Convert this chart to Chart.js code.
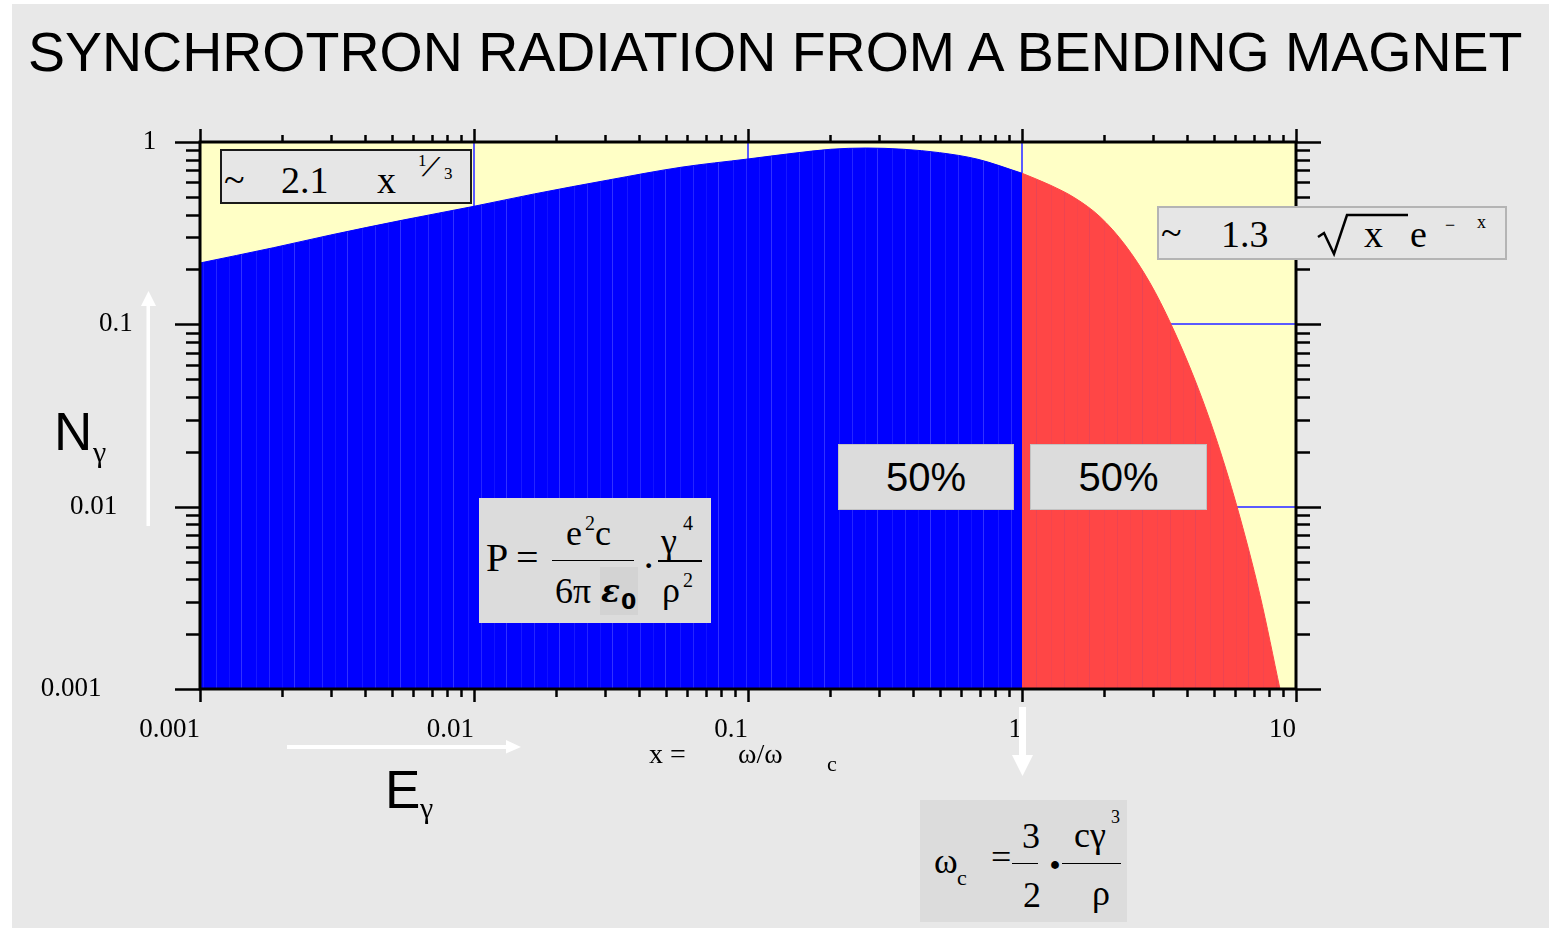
<!DOCTYPE html>
<html>
<head>
<meta charset="utf-8">
<script src="https://cdn.jsdelivr.net/npm/chart.js@4.4.1/dist/chart.umd.min.js"></script>
<style>
  html, body { margin: 0; padding: 0; background: #fff; }
  #page { position: absolute; left: 12px; top: 4px; width: 1537px; height: 924px; background: #e8e8e8; }
  #chart { position: absolute; left: 0; top: 0; }
  .t { position: absolute; line-height: 1; white-space: nowrap; font-family: "Liberation Serif", serif; color: #000; }
  .s { font-family: "Liberation Sans", Arial, sans-serif; }
  .box { position: absolute; box-sizing: border-box; }
  .bar { position: absolute; height: 1.5px; background: #000; }
  .pct { position: absolute; box-sizing: border-box; background: #dcdcdc; border: 1px solid #c2c2c2;
         font: 40px "Liberation Sans", Arial, sans-serif; text-align: center; line-height: 64px; }
</style>
</head>
<body>
<div id="page"></div>
<canvas id="chart" width="1549" height="928"></canvas>

<!-- title and axis names -->
<div class="t s" style="left:28px; top:25px; font-size:55.5px;">SYNCHROTRON RADIATION FROM A BENDING MAGNET</div>
<div class="t s" style="left:54px; top:405px; font-size:53px;">N</div>
<div class="t" style="left:93px; top:437px; font-size:30px;">γ</div>
<div class="t s" style="left:385px; top:763px; font-size:53px;">E</div>
<div class="t" style="left:420px; top:793px; font-size:30px;">γ</div>
<div class="t" style="left:649px; top:740px; font-size:28px;">x =</div>
<div class="t" style="left:738px; top:740px; font-size:28px;">ω/ω</div>
<div class="t" style="left:827px; top:753px; font-size:22px;">c</div>

<!-- low energy asymptote -->
<div class="box" style="left:220px; top:149px; width:252px; height:55px; background:#e6e6e6; border:2px solid #1a1a1a;"></div>
<div class="t" style="left:224px; top:160px; font-size:38px;">~</div>
<div class="t" style="left:281px; top:161px; font-size:38px;">2.1</div>
<div class="t" style="left:377px; top:161px; font-size:38px;">x</div>
<div class="t" style="left:418px; top:152px; font-size:17px;">1</div>
<div class="t" style="left:427px; top:152px; font-size:29px; transform:skewX(-28deg); font-weight:bold;">/</div>
<div class="t" style="left:444px; top:165px; font-size:17px;">3</div>

<!-- high energy asymptote -->
<div class="box" style="left:1157px; top:206px; width:350px; height:54px; background:#e6e6e6; border:2px solid #b4b4b4;"></div>
<div class="t" style="left:1161px; top:213px; font-size:38px;">~</div>
<div class="t" style="left:1221px; top:215px; font-size:38px;">1.3</div>
<svg style="position:absolute; left:1310px; top:205px;" width="110" height="60">
  <polyline points="8,32 14,28 24,49 37,10 98,10" fill="none" stroke="#000" stroke-width="2.5"/>
</svg>
<div class="t" style="left:1364px; top:215px; font-size:38px;">x</div>
<div class="t" style="left:1410px; top:215px; font-size:38px;">e</div>
<div class="t" style="left:1445px; top:216px; font-size:18px;">−</div>
<div class="t" style="left:1477px; top:213px; font-size:18px;">x</div>

<!-- half of the power on each side of the critical frequency -->
<div class="pct" style="left:838px; top:444px; width:176px; height:66px;">50%</div>
<div class="pct" style="left:1030px; top:444px; width:177px; height:66px;">50%</div>

<!-- radiated power -->
<div class="box" style="left:479px; top:498px; width:232px; height:125px; background:#dcdcdc;"></div>
<div class="box" style="left:600px; top:567px; width:38px; height:48px; background:#d3d3d3;"></div>
<div class="t" style="left:486px; top:538px; font-size:40px;">P</div>
<div class="t" style="left:516px; top:538px; font-size:40px;">=</div>
<div class="bar" style="left:552px; top:559.5px; width:82px;"></div>
<div class="t" style="left:566px; top:515px; font-size:36px;">e</div>
<div class="t" style="left:585px; top:513px; font-size:20px;">2</div>
<div class="t" style="left:595px; top:515px; font-size:36px;">c</div>
<div class="t" style="left:555px; top:573px; font-size:36px;">6π</div>
<div class="t" style="left:601px; top:576px; font-size:31px; font-family:'DejaVu Serif'; font-weight:bold; font-style:italic;">ε</div>
<div class="t" style="left:621px; top:591px; font-size:22px; font-family:'DejaVu Sans'; font-weight:bold;">0</div>
<div class="t" style="left:642px; top:546px; font-size:40px;">·</div>
<div class="t" style="left:661px; top:523px; font-size:36px;">γ</div>
<div class="t" style="left:683px; top:513px; font-size:20px;">4</div>
<div class="bar" style="left:658px; top:560px; width:44px;"></div>
<div class="t" style="left:662px; top:572px; font-size:36px;">ρ</div>
<div class="t" style="left:683px; top:570px; font-size:20px;">2</div>

<!-- critical frequency -->
<div class="box" style="left:920px; top:800px; width:207px; height:122px; background:#dcdcdc;"></div>
<div class="t" style="left:934px; top:843px; font-size:36px;">ω</div>
<div class="t" style="left:957px; top:867px; font-size:22px;">c</div>
<div class="t" style="left:991px; top:839px; font-size:36px;">=</div>
<div class="bar" style="left:1012px; top:862.5px; width:26px;"></div>
<div class="t" style="left:1022px; top:818px; font-size:36px;">3</div>
<div class="t" style="left:1023px; top:877px; font-size:36px;">2</div>
<div class="t" style="left:1047px; top:841px; font-size:48px; font-weight:bold;">·</div>
<div class="bar" style="left:1062px; top:862.5px; width:59px;"></div>
<div class="t" style="left:1074px; top:817px; font-size:36px;">cγ</div>
<div class="t" style="left:1111px; top:808px; font-size:18px;">3</div>
<div class="t" style="left:1092px; top:875px; font-size:36px;">ρ</div>

<script>
// photon spectrum below the critical frequency (x = omega / omega_c)
const xBlue = [0.001, 0.00185, 0.003, 0.0055, 0.01, 0.0166, 0.031, 0.057, 0.1, 0.146, 0.2, 0.27, 0.37, 0.5, 0.69, 1];
const nBlue = [0.217, 0.263, 0.309, 0.373, 0.444, 0.519, 0.619, 0.727, 0.807, 0.867, 0.912, 0.927, 0.912, 0.874, 0.804, 0.674];
// and above it
const xRed = [1, 1.265, 1.56, 1.93, 2.38, 2.93, 3.5, 4.28, 5.06, 6.09, 7.39, 8.74];
const nRed = [0.674, 0.581, 0.493, 0.388, 0.272, 0.169, 0.1, 0.0494, 0.0247, 0.01, 0.00326, 0.001];

const xMajor = [0.001, 0.01, 0.1, 1, 10];
const xTickLabels = ['0.001', '0.01', '0.1', '1', '10'];
const yMajor = [0.001, 0.01, 0.1, 1];
const yTickLabels = ['0.001', '0.01', '0.1', '1'];

function points(xs, ys) {
    return xs.map(function (x, i) { return {x: x, y: ys[i]}; });
}

// area fill with thin vertical streaks, like a histogram of many narrow bins
function streaks(base, line) {
    const c = document.createElement('canvas');
    c.width = 53; c.height = 4;
    const g = c.getContext('2d');
    g.fillStyle = base;
    g.fillRect(0, 0, c.width, c.height);
    g.fillStyle = line;
    [[4, 0.3], [17, 0.15], [29, 0.4], [44, 0.2]].forEach(function (s) {
        g.globalAlpha = s[1];
        g.fillRect(s[0], 0, 1, c.height);
    });
    return g.createPattern(c, 'repeat');
}

// yellow plot area
const plotBg = {
    id: 'plotBg',
    beforeDraw: function (chart) {
        const a = chart.chartArea, ctx = chart.ctx;
        ctx.save();
        ctx.fillStyle = '#ffffc6';
        ctx.fillRect(a.left, a.top, a.right - a.left, a.bottom - a.top);
        ctx.restore();
    }
};

// frame, log ticks on all four sides, tick labels and the white arrows
const frame = {
    id: 'frame',
    afterDraw: function (chart) {
        const a = chart.chartArea, ctx = chart.ctx;
        const xs = chart.scales.x, ys = chart.scales.y;
        ctx.save();
        ctx.strokeStyle = '#000';
        ctx.lineWidth = 2.5;
        ctx.beginPath();
        for (let d = 0; d < xMajor.length; d++) {
            const kmax = d === xMajor.length - 1 ? 1 : 9;
            for (let k = 1; k <= kmax; k++) {
                const px = Math.round(xs.getPixelForValue(k * xMajor[d])) + 0.5;
                const big = k === 1;
                ctx.moveTo(px, a.top); ctx.lineTo(px, a.top - (big ? 13 : 7));
                ctx.moveTo(px, a.bottom); ctx.lineTo(px, a.bottom + (big ? 13 : 8));
            }
        }
        for (let d = 0; d < yMajor.length; d++) {
            const kmax = d === yMajor.length - 1 ? 1 : 9;
            for (let k = 1; k <= kmax; k++) {
                const py = Math.round(ys.getPixelForValue(k * yMajor[d])) + 0.5;
                const big = k === 1;
                ctx.moveTo(a.left, py); ctx.lineTo(a.left - (big ? 25 : 14), py);
                ctx.moveTo(a.right, py); ctx.lineTo(a.right + (big ? 25 : 14), py);
            }
        }
        ctx.stroke();
        ctx.lineWidth = 3;
        ctx.strokeRect(a.left, a.top, a.right - a.left, a.bottom - a.top);

        // tick labels
        ctx.fillStyle = '#000';
        ctx.font = '27px "Liberation Serif"';
        ctx.textBaseline = 'middle';
        ctx.textAlign = 'left';
        for (let i = 0; i < yMajor.length; i++) {
            const w = ctx.measureText(yTickLabels[i]).width;
            ctx.fillText(yTickLabels[i], a.left - 28 - 2.16 * w, ys.getPixelForValue(yMajor[i]));
        }
        ctx.textAlign = 'right';
        for (let i = 0; i < xMajor.length; i++) {
            ctx.fillText(xTickLabels[i], xs.getPixelForValue(xMajor[i]), a.bottom + 41);
        }

        // arrows
        ctx.fillStyle = '#fff';
        ctx.fillRect(146.5, 305, 3.5, 221);
        ctx.beginPath(); ctx.moveTo(141, 306); ctx.lineTo(156, 306); ctx.lineTo(148.5, 291); ctx.fill();
        ctx.fillRect(287, 745, 221, 4);
        ctx.beginPath(); ctx.moveTo(506, 740); ctx.lineTo(506, 753.5); ctx.lineTo(521, 747); ctx.fill();
        const xc = xs.getPixelForValue(1);
        ctx.fillRect(xc - 3, 707, 7, 49);
        ctx.beginPath(); ctx.moveTo(xc - 10, 755); ctx.lineTo(xc + 11, 755); ctx.lineTo(xc + 0.5, 776); ctx.fill();
        ctx.restore();
    }
};

function gridColor(edges) {
    return function (c) {
        return (c.tick && edges.indexOf(c.tick.value) >= 0) ? 'rgba(0,0,0,0)' : '#5a5aff';
    };
}

const ctx = document.getElementById('chart').getContext('2d');

new Chart(ctx, {
    type: 'line',
    data: {
        datasets: [{
            label: 'x < 1',
            data: points(xBlue, nBlue),
            fill: 'start',
            backgroundColor: streaks('#0000ff', '#7a7aff'),
            borderColor: '#0000ff',
            borderWidth: 1,
            pointRadius: 0,
            cubicInterpolationMode: 'monotone'
        }, {
            label: 'x > 1',
            data: points(xRed, nRed),
            fill: 'start',
            backgroundColor: streaks('#ff4646', '#c8406e'),
            borderColor: '#ff4646',
            borderWidth: 1,
            pointRadius: 0,
            cubicInterpolationMode: 'monotone'
        }]
    },
    options: {
        responsive: false,
        animation: false,
        layout: {padding: {left: 200, right: 253, top: 142, bottom: 239}},
        plugins: {legend: {display: false}, tooltip: {enabled: false}},
        scales: {
            x: {
                type: 'logarithmic',
                min: 0.001,
                max: 10,
                afterBuildTicks: function (s) { s.ticks = xMajor.map(function (v) { return {value: v}; }); },
                afterFit: function (s) { s.height = 0; },
                border: {display: false},
                grid: {color: gridColor([0.001, 10]), lineWidth: 2, drawTicks: false},
                ticks: {display: false}
            },
            y: {
                type: 'logarithmic',
                min: 0.001,
                max: 1,
                afterBuildTicks: function (s) { s.ticks = yMajor.map(function (v) { return {value: v}; }); },
                afterFit: function (s) { s.width = 0; },
                border: {display: false},
                grid: {color: gridColor([0.001, 1]), lineWidth: 2, drawTicks: false},
                ticks: {display: false}
            }
        }
    },
    plugins: [plotBg, frame]
});
</script>
</body>
</html>
